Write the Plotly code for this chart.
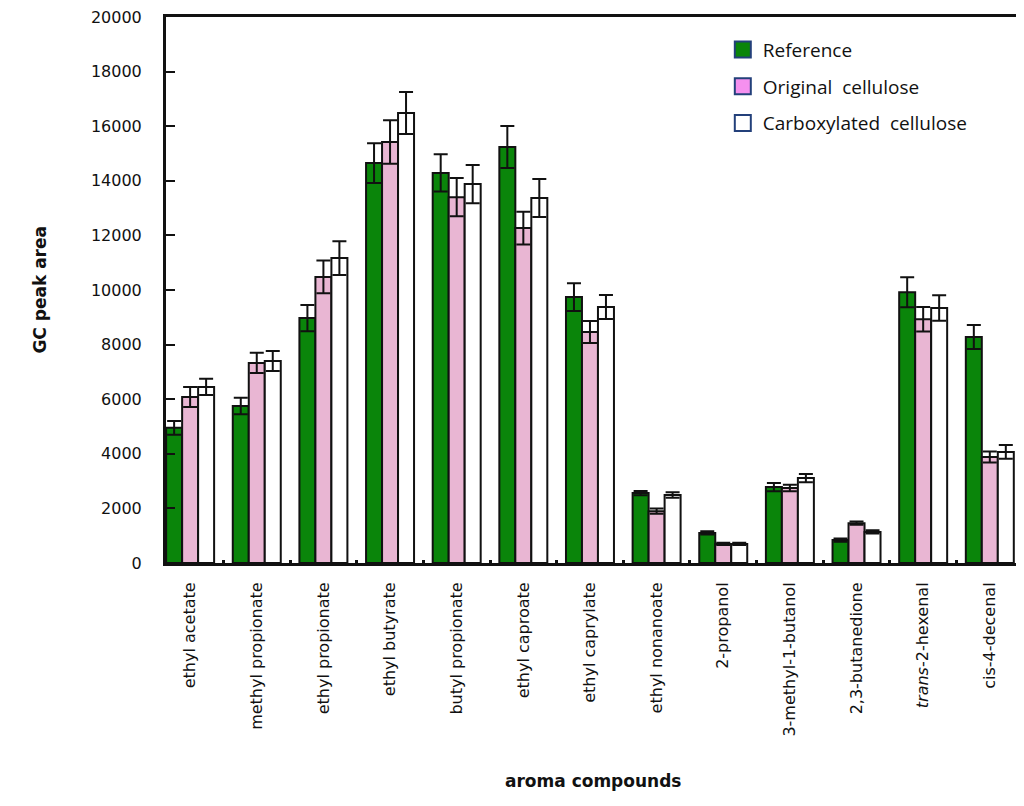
import plotly.graph_objects as go

compounds = ["ethyl acetate", "methyl propionate", "ethyl propionate", "ethyl butyrate",
             "butyl propionate", "ethyl caproate", "ethyl caprylate", "ethyl nonanoate",
             "2-propanol", "3-methyl-1-butanol", "2,3-butanedione", "trans-2-hexenal",
             "cis-4-decenal"]
tick_text = ["ethyl acetate", "methyl propionate", "ethyl propionate", "ethyl butyrate",
             "butyl propionate", "ethyl caproate", "ethyl caprylate", "ethyl nonanoate",
             "2-propanol", "3-methyl-1-butanol", "2,3-butanedione", "<i>trans</i>-2-hexenal",
             "cis-4-decenal"]

reference = [4950, 5750, 8970, 14650, 14290, 15240, 9740, 2560, 1100, 2780, 840, 9920, 8280]
reference_err = [250, 300, 480, 730, 680, 770, 510, 80, 60, 150, 60, 550, 440]
original = [6080, 7330, 10480, 15420, 13400, 12270, 8460, 1900, 700, 2750, 1460, 8930, 3880]
original_err = [370, 370, 600, 800, 700, 600, 400, 100, 40, 120, 60, 450, 200]
carboxylated = [6450, 7400, 11170, 16480, 13880, 13370, 9380, 2490, 700, 3110, 1140, 9340, 4070]
carboxylated_err = [300, 370, 620, 770, 700, 700, 440, 100, 40, 150, 60, 470, 250]

y_ticks = list(range(0, 20001, 2000))
y_tick_text = [str(v) for v in y_ticks]

series = [
    ("Reference", reference, reference_err, "#0a850a", "#0a850a"),
    ("Original  cellulose", original, original_err, "#e9b6d3", "#f590ef"),
    ("Carboxylated  cellulose", carboxylated, carboxylated_err, "#ffffff", "#ffffff"),
]

fig = go.Figure()

for name, vals, errs, col, legcol in series:
    fig.add_trace(go.Bar(
        x=compounds, y=vals, name=name, showlegend=False,
        marker=dict(color=col, line=dict(color="#111111", width=2)),
        error_y=dict(type="data", array=errs, visible=True,
                     color="#111111", thickness=2, width=7),
    ))

# legend swatches (square boxes with dark blue border)
for name, vals, errs, col, legcol in series:
    fig.add_trace(go.Scatter(
        x=[None], y=[None], mode="markers", name=name, legendgroup=name,
        marker=dict(symbol="square", size=16, color=legcol,
                    line=dict(color="#23407a", width=2)),
    ))

fig.update_layout(
    width=1024, height=806,
    barmode="group", bargap=0.28, bargroupgap=0,
    margin=dict(l=158, r=12, t=9, b=251),
    paper_bgcolor="white", plot_bgcolor="white",
    font=dict(family="DejaVu Sans", color="#111111"),
    legend=dict(x=0.652, y=0.975, xanchor="left", yanchor="top",
                font=dict(family="Open Sans", size=19, color="#111111"),
                tracegroupgap=9, traceorder="grouped",
                bgcolor="rgba(0,0,0,0)"),
    annotations=[
        dict(text="<b>GC peak area</b>", x=-0.148, xref="paper", xanchor="center",
             y=0.5, yref="paper", textangle=-90, showarrow=False,
             font=dict(family="DejaVu Sans", size=17, color="#111111")),
        dict(text="<b>aroma compounds</b>", x=0.5, xref="paper", y=-0.4,
             yref="paper", yanchor="middle", showarrow=False,
             font=dict(family="DejaVu Sans", size=17, color="#111111")),
    ],
)

fig.update_xaxes(
    type="category", range=[-0.362, 12.453], automargin=False,
    tickmode="array", tickvals=compounds, ticktext=tick_text,
    tickangle=-90, tickfont=dict(size=16, family="DejaVu Sans"),
    tickson="boundaries", ticks="inside", ticklen=3, tickwidth=3, tickcolor="#111111",
    ticklabelstandoff=10,
    showline=True, linecolor="#111111", linewidth=3, mirror=True, showgrid=False,
)
fig.update_yaxes(
    range=[0, 20000], automargin=False,
    tickmode="array", tickvals=y_ticks, ticktext=y_tick_text,
    ticks="inside", ticklen=9, tickwidth=2, tickcolor="#111111",
    tickfont=dict(size=16, family="DejaVu Sans"),
    ticklabelstandoff=18, ticklabeloverflow="allow",
    showline=True, linecolor="#111111", linewidth=3, mirror=True,
    showgrid=False, zeroline=False,
)

fig.write_html("out.html")
